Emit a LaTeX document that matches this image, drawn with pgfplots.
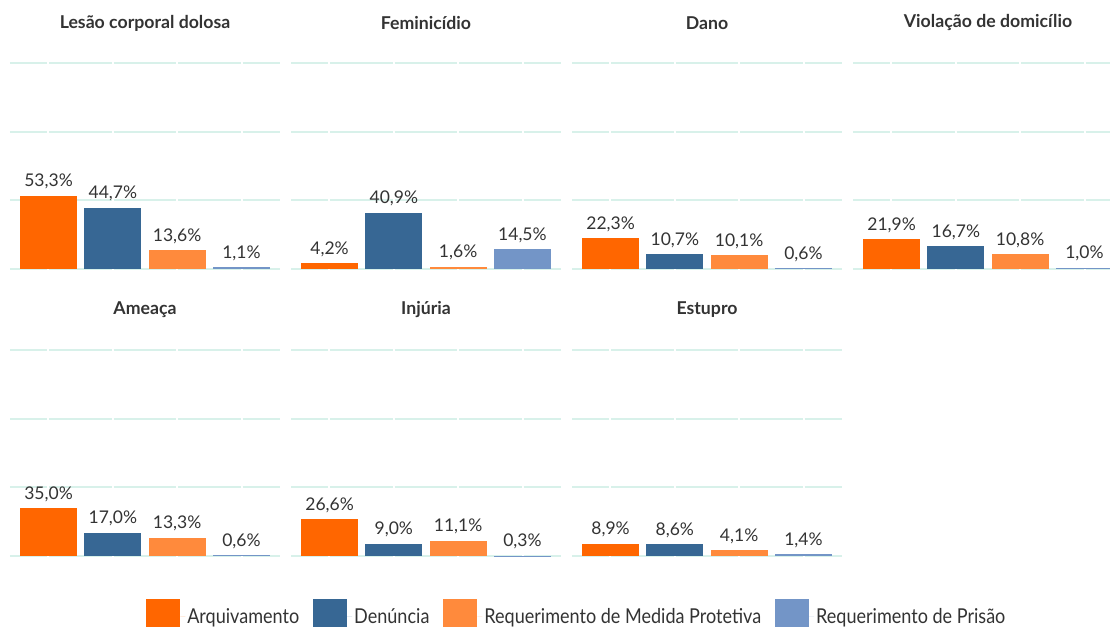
\documentclass[border=0pt]{standalone}
\usepackage{pgfplots}
\pgfplotsset{compat=1.18}
\usepackage{fontspec}
\setmainfont{Lato}
\newfontfamily\legfont[FakeStretch=0.88]{Lato}
\definecolor{cA}{HTML}{FF6600}
\definecolor{cD}{HTML}{376794}
\definecolor{cM}{HTML}{FF8A3C}
\definecolor{cP}{HTML}{7395C7}
\definecolor{gridc}{HTML}{D8F1EA}
\definecolor{txt}{HTML}{333333}
\pgfplotsset{
 panel/.style={
  scale only axis, width=270pt, height=206pt, anchor=south west,
  xmin=-0.6, xmax=3.6, ymin=0, ymax=150,
  axis line style={draw=none},
  xtick={0,1,2,3}, ytick={0,50,100,150},
  xticklabels={}, yticklabels={},
  major tick length=0pt,
  ymajorgrids,
  y grid style={color=gridc, line width=2pt, dash pattern=on 62.3pt off 2.2pt, dash phase=25.3pt},
  ybar, bar width=57pt, bar shift=0pt,
  every axis plot/.append style={draw=none},
  nodes near coords={\pgfmathprintnumber{\pgfplotspointmeta}\%},
  /pgf/number format/use comma,
  /pgf/number format/fixed,
  /pgf/number format/fixed zerofill,
  /pgf/number format/precision=1,
  /pgf/number format/assume math mode=true,
  every node near coord/.append style={font=\fontsize{17.5}{19}\selectfont, text=txt, anchor=south, yshift=3pt},
  title style={font=\bfseries\fontsize{17.7}{19}\selectfont, text=txt, at={(0.5,1)}, anchor=center, yshift=34pt},
 },
}
\begin{document}
\begin{tikzpicture}
\useasboundingbox (0,0) rectangle (1110pt,629pt);
\begin{axis}[panel, at={(10pt,360pt)}, title={Lesão corporal dolosa}]
\addplot[fill=cA] coordinates {(0,53.3)};
\addplot[fill=cD] coordinates {(1,44.7)};
\addplot[fill=cM] coordinates {(2,13.6)};
\addplot[fill=cP] coordinates {(3,1.1)};
\end{axis}
\begin{axis}[panel, at={(291pt,360pt)}, title={Feminicídio}]
\addplot[fill=cA] coordinates {(0,4.2)};
\addplot[fill=cD] coordinates {(1,40.9)};
\addplot[fill=cM] coordinates {(2,1.6)};
\addplot[fill=cP] coordinates {(3,14.5)};
\end{axis}
\begin{axis}[panel, at={(572pt,360pt)}, title={Dano}]
\addplot[fill=cA] coordinates {(0,22.3)};
\addplot[fill=cD] coordinates {(1,10.7)};
\addplot[fill=cM] coordinates {(2,10.1)};
\addplot[fill=cP] coordinates {(3,0.6)};
\end{axis}
\begin{axis}[panel, at={(853pt,360pt)}, title={Violação de domicílio}]
\addplot[fill=cA] coordinates {(0,21.9)};
\addplot[fill=cD] coordinates {(1,16.7)};
\addplot[fill=cM] coordinates {(2,10.8)};
\addplot[fill=cP] coordinates {(3,1.0)};
\end{axis}
\begin{axis}[panel, at={(10pt,73pt)}, title={Ameaça}]
\addplot[fill=cA] coordinates {(0,35.0)};
\addplot[fill=cD] coordinates {(1,17.0)};
\addplot[fill=cM] coordinates {(2,13.3)};
\addplot[fill=cP] coordinates {(3,0.6)};
\end{axis}
\begin{axis}[panel, at={(291pt,73pt)}, title={Injúria}]
\addplot[fill=cA] coordinates {(0,26.6)};
\addplot[fill=cD] coordinates {(1,9.0)};
\addplot[fill=cM] coordinates {(2,11.1)};
\addplot[fill=cP] coordinates {(3,0.3)};
\end{axis}
\begin{axis}[panel, at={(572pt,73pt)}, title={Estupro},
  every axis plot post/.append style={legend image code/.code={\fill[##1] (0pt,-10pt) rectangle (34pt,18pt); \path (34pt,0pt) -- (39pt,0pt);}},
  legend style={at={(0.018,-0.277)}, anchor=center, draw=none, fill=none, legend columns=4,
    font=\legfont\fontsize{20.5}{22}\selectfont, text=txt,
    /tikz/every even column/.append style={column sep=12pt}}]
\addplot[fill=cA] coordinates {(0,8.9)};
\addplot[fill=cD] coordinates {(1,8.6)};
\addplot[fill=cM] coordinates {(2,4.1)};
\addplot[fill=cP] coordinates {(3,1.4)};
\legend{Arquivamento, Denúncia, Requerimento de Medida Protetiva, Requerimento de Prisão}
\end{axis}
\end{tikzpicture}
\end{document}
